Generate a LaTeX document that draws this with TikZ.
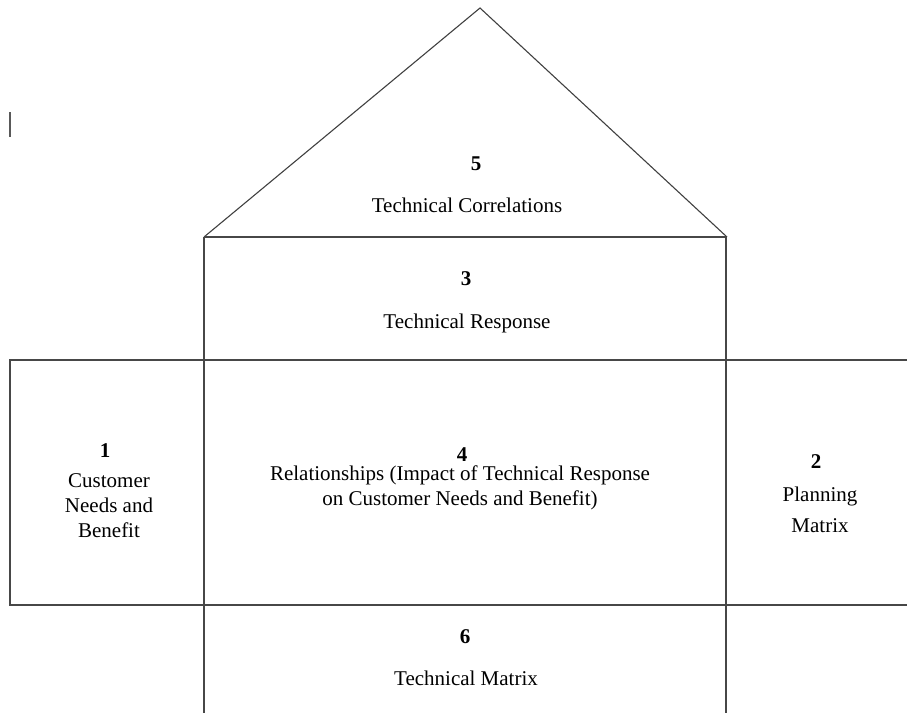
\documentclass[tikz,border=0pt]{standalone}
\usepackage{fontspec}
\setmainfont{Liberation Serif}
\tikzset{
  frame/.style={draw=black!72, line width=1.3pt},
  roof/.style={draw=black!75, line width=1.1pt, line join=miter},
  num/.style={font=\fontsize{21}{25}\selectfont\bfseries, inner sep=0pt, anchor=base},
  lbl/.style={font=\fontsize{21}{25}\selectfont, inner sep=0pt, anchor=base, align=center},
  cursor/.style={draw=black!65, line width=1.4pt}
}
\begin{document}
\begin{tikzpicture}[x=1pt,y=-1pt]
\useasboundingbox (0,0) rectangle (907,713);
% corner coordinates
\coordinate (apex) at (480,8);
\coordinate (rl) at (204,237);
\coordinate (rr) at (726,237);
\coordinate (bl) at (204,713);
\coordinate (br) at (726,713);
\coordinate (mtr) at (907,360);
\coordinate (mtl) at (10,360);
\coordinate (mbl) at (10,605);
\coordinate (mbr) at (907,605);
\coordinate (c1) at (10,112);
\coordinate (c2) at (10,137);
% roof
\draw[roof] (rl) -- (apex) -- (727,237);
% box 3 top and the two long verticals
\draw[frame] (rl) -- (rr);
\draw[frame] (rl) -- (bl);
\draw[frame] (rr) -- (br);
% middle band
\draw[frame] (mtr) -- (mtl) -- (mbl) -- (mbr);
% text cursor mark
\draw[cursor] (c1) -- (c2);
% texts (multi-line nodes are placed at the baseline of their last line)
\node[num] (n5) at (476,170) {5};
\node[lbl] (t5) at (467,212) {Technical Correlations};
\node[num] (n3) at (466,285) {3};
\node[lbl] (t3) at (467,328) {Technical Response};
\node[num] (n4) at (462,461) {4};
\node[lbl] (t4) at (460,505) {Relationships (Impact of Technical Response\\on Customer Needs and Benefit)};
\node[num] (n1) at (105,457) {1};
\node[lbl] (t1) at (109,537) {Customer\\Needs and\\Benefit};
\node[num] (n2) at (816,468) {2};
\node[lbl, font=\fontsize{21}{31}\selectfont] (t2) at (820,532) {Planning\\Matrix};
\node[num] (n6) at (465,643) {6};
\node[lbl] (t6) at (466,685) {Technical Matrix};
\end{tikzpicture}
\end{document}
